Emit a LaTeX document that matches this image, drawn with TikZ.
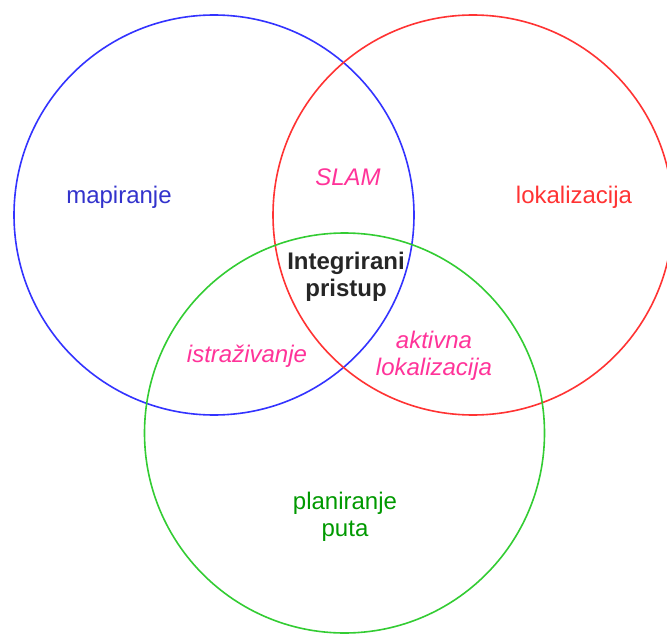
\documentclass[tikz,border=0pt]{standalone}
\usepackage{fontspec}
\setmainfont{Liberation Sans}
\definecolor{cblue}{RGB}{51,51,255}
\definecolor{tblue}{RGB}{51,51,204}
\definecolor{cred}{RGB}{255,51,51}
\definecolor{cgreen}{RGB}{51,204,51}
\definecolor{tgreen}{RGB}{0,153,0}
\definecolor{cpink}{RGB}{255,51,153}
\begin{document}
\begin{tikzpicture}[x=1pt,y=-1pt,
  ring/.style={draw, line width=1.6pt},
  lbl/.style={font=\fontsize{24}{27.5}\selectfont, align=center, inner sep=0pt},
  ilbl/.style={lbl, font=\fontsize{24}{27.5}\selectfont\itshape, text=cpink}]
\useasboundingbox (0,0) rectangle (667,634);
\draw[ring, cblue] (214,215) circle (200);
\draw[ring, cred] (473,215) circle (200);
\draw[ring, cgreen] (344.5,433) circle (200);
\node[lbl, text=tblue] (map) at (119,197) {mapiranje};
\node[lbl, text=cred] (lok) at (574,197) {lokalizacija};
\node[lbl, text=tgreen] (plan) at (345,517) {planiranje\\puta};
\node[ilbl] (slam) at (348,177) {SLAM};
\node[ilbl] (istr) at (247,356) {istraživanje};
\node[ilbl] (akt) at (434,356) {aktivna\\lokalizacija};
\node[lbl, font=\fontsize{24}{27.5}\selectfont\bfseries, text=black!85] (int) at (346,277) {Integrirani\\pristup};
\end{tikzpicture}
\end{document}
